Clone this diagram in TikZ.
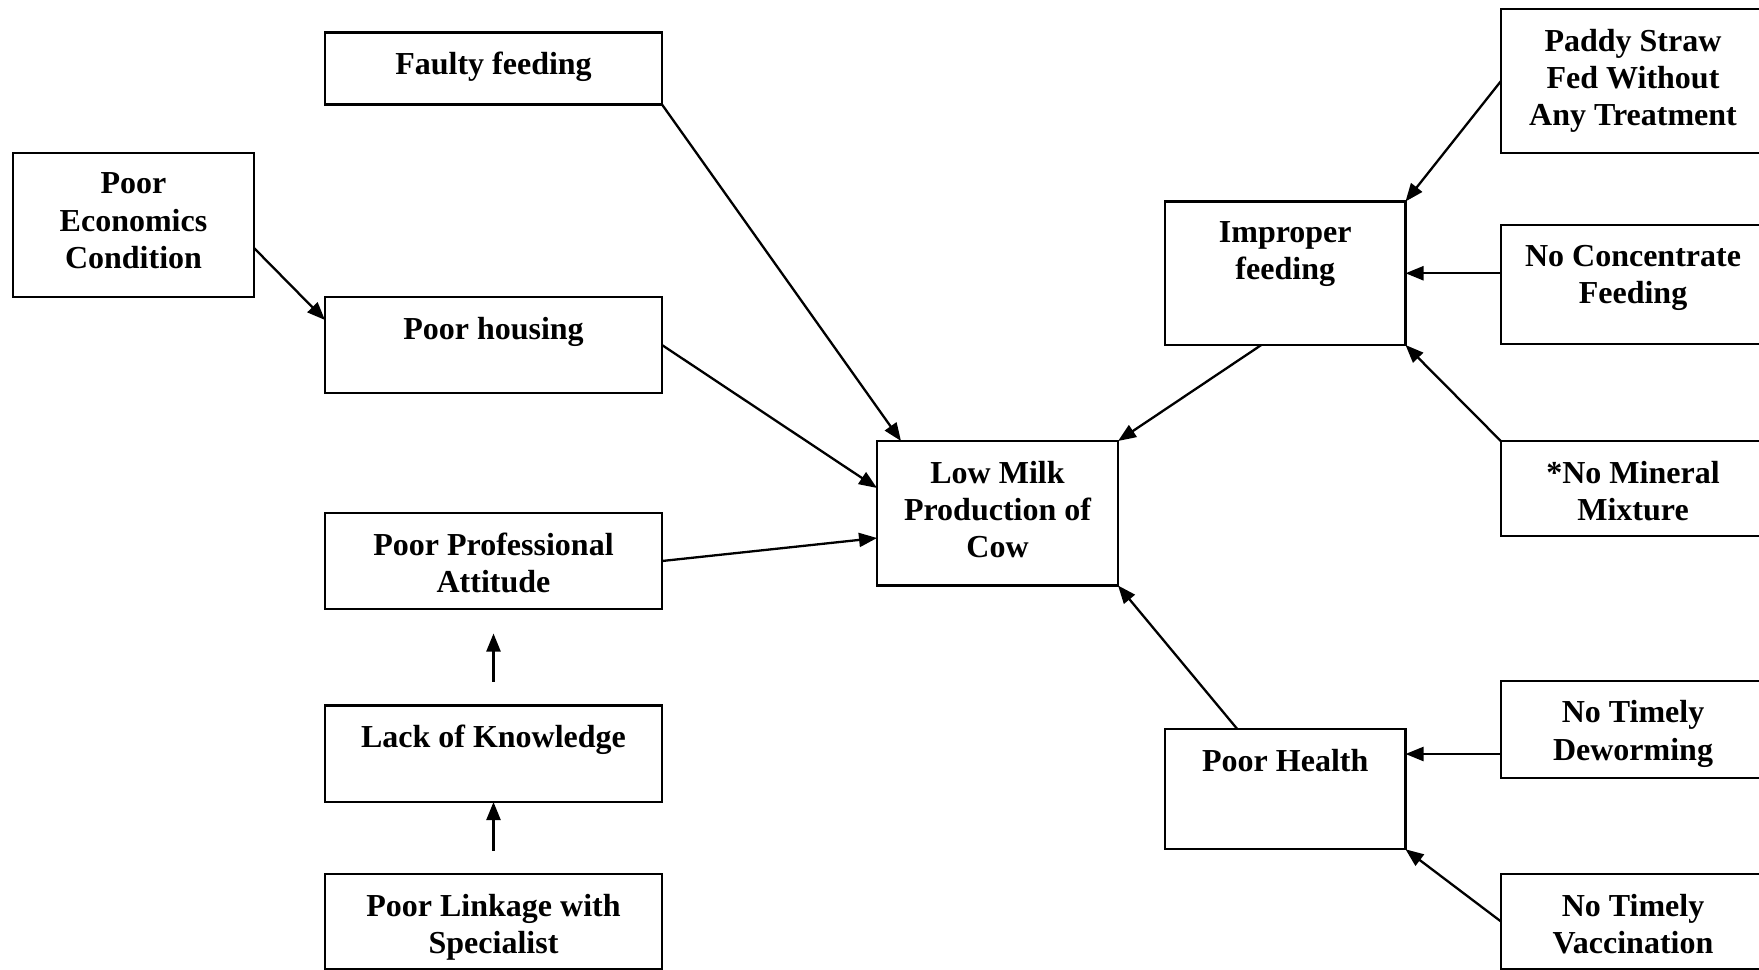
\documentclass[tikz,border=0pt]{standalone}
\usepackage{fontspec}
\setmainfont{Liberation Serif}
\usetikzlibrary{arrows.meta,calc}
\begin{document}
\begin{tikzpicture}[x=0.5pt,y=-0.5pt,
  box/.style={draw,line width=1.1pt,inner sep=0pt,outer sep=0pt},
  txt/.style={anchor=north,inner sep=0pt,align=center,font=\bfseries\fontsize{16}{18.7}\selectfont},
  arr/.style={line width=1.15pt,-{Triangle[length=9pt,width=7pt]}}]
\useasboundingbox (0,0) rectangle (1759,969);
\clip (0,0) rectangle (1759,969);
% boxes
\node[box,minimum width=168.5pt,minimum height=36pt] (ff) at (493.5,68.5) {};
\node[box,minimum width=120.5pt,minimum height=72pt] (pe) at (133.5,225) {};
\node[box,minimum width=168.5pt,minimum height=48pt] (ph) at (493.5,345) {};
\node[box,minimum width=168.5pt,minimum height=48pt] (pp) at (493.5,561) {};
\node[box,minimum width=168.5pt,minimum height=48.25pt] (lk) at (493.5,753.75) {};
\node[box,minimum width=168.5pt,minimum height=47.5pt] (pl) at (493.5,921.5) {};
\node[box,minimum width=120.5pt,minimum height=72.25pt] (lm) at (997.5,513.25) {};
\node[box,minimum width=120.25pt,minimum height=71.75pt] (ipf) at (1285.25,273.25) {};
\node[box,minimum width=132pt,minimum height=72pt] (ps) at (1633,81) {};
\node[box,minimum width=132pt,minimum height=59.5pt] (nc) at (1633,284.5) {};
\node[box,minimum width=132pt,minimum height=47.25pt] (nm) at (1633,488.5) {};
\node[box,minimum width=120.25pt,minimum height=60.15pt] (hl) at (1285.25,789.15) {};
\node[box,minimum width=132pt,minimum height=48.5pt] (nd) at (1633,729.2) {};
\node[box,minimum width=132pt,minimum height=47.5pt] (nv) at (1633,921.5) {};
% texts
\node[txt] (fft) at ([yshift=-9.75pt]ff.north) {Faulty feeding};
\node[txt] (pet) at ([yshift=-9.75pt]pe.north) {Poor\\Economics\\Condition};
\node[txt] (pht) at ([yshift=-9.75pt]ph.north) {Poor housing};
\node[txt] (ppt) at ([yshift=-9.75pt]pp.north) {Poor Professional\\Attitude};
\node[txt] (lkt) at ([yshift=-9.75pt]lk.north) {Lack of Knowledge};
\node[txt] (plt) at ([yshift=-9.75pt]pl.north) {Poor Linkage with\\Specialist};
\node[txt] (lmt) at ([yshift=-9.75pt]lm.north) {Low Milk\\Production of\\Cow};
\node[txt] (ipft) at ([yshift=-9.75pt]ipf.north) {Improper\\feeding};
\node[txt] (pst) at ([yshift=-9.75pt]ps.north) {Paddy Straw\\Fed Without\\Any Treatment};
\node[txt] (nct) at ([yshift=-9.75pt]nc.north) {No Concentrate\\Feeding};
\node[txt] (nmt) at ([yshift=-9.75pt]nm.north) {*No Mineral\\Mixture};
\node[txt] (hlt) at ([yshift=-9.75pt]hl.north) {Poor Health};
\node[txt] (ndt) at ([yshift=-9.75pt]nd.north) {No Timely\\Deworming};
\node[txt] (nvt) at ([yshift=-9.75pt]nv.north) {No Timely\\Vaccination};
% connectors
\coordinate (hd) at ([yshift=-12.5pt]hl.north east);
\draw[arr] ([yshift=-47.5pt]pe.north east) -- ([yshift=-11.5pt]ph.north west);
\draw[arr] (ff.south east) -- ([xshift=12pt]lm.north west);
\draw[arr] (ph.east) -- ([yshift=-23.5pt]lm.north west);
\draw[arr] (pp.east) -- ([yshift=-48.5pt]lm.north west);
\draw[arr] ([yshift=12pt]lk.north) -- ([yshift=-12.25pt]pp.south);
\draw[arr] ([yshift=11.75pt]pl.north) -- (lk.south);
\draw[arr] ([xshift=-12pt]ipf.south) -- (lm.north east);
\draw[arr] (ps.west) -- (ipf.north east);
\draw[arr] (nc.west |- ipf.east) -- (ipf.east);
\draw[arr] (nm.north west) -- (ipf.south east);
\draw[arr] ([xshift=-24pt]hl.north) -- (lm.south east);
\draw[arr] (nd.west |- hd) -- (hd);
\draw[arr] (nv.west) -- (hl.south east);
\end{tikzpicture}
\end{document}
